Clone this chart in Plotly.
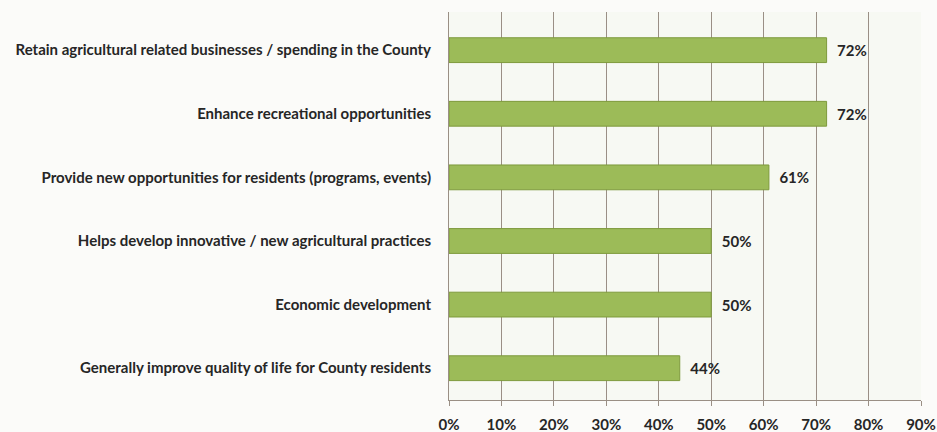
import plotly.graph_objects as go

categories = [
    "Retain agricultural related businesses / spending in the County",
    "Enhance recreational opportunities",
    "Provide new opportunities for residents (programs, events)",
    "Helps develop innovative / new agricultural practices",
    "Economic development",
    "Generally improve quality of life for County residents",
]
values = [72, 72, 61, 50, 50, 44]
value_labels = ["72%", "72%", "61%", "50%", "50%", "44%"]
x_ticks = [0, 10, 20, 30, 40, 50, 60, 70, 80, 90]
x_tick_labels = [f"{v}%" for v in x_ticks]

FONT = dict(family="Lato", size=15, color="#262626", weight="bold")

fig = go.Figure(
    go.Bar(
        x=values,
        y=categories,
        orientation="h",
        width=0.39,
        marker=dict(color="#9CBB58", line=dict(color="#7E9A3C", width=1)),
        text=["\u2002" + s for s in value_labels],
        texttemplate="%{text}",
        textposition="outside",
        textfont=FONT,
        cliponaxis=False,
    )
)

fig.update_layout(
    width=937,
    height=432,
    margin=dict(l=449, r=16, t=12, b=32, autoexpand=False),
    paper_bgcolor="#fbfbf9",
    plot_bgcolor="#f7f9f3",
    showlegend=False,
    font=FONT,
    xaxis=dict(
        range=[0, 90],
        tickvals=x_ticks,
        ticktext=x_tick_labels,
        showgrid=True,
        gridcolor="#9a8f85",
        gridwidth=1,
        zeroline=False,
        showline=True,
        linecolor="#9a8f85",
        ticks="outside",
        ticklen=5,
        tickcolor="#9a8f85",
        ticklabelstandoff=6,
        tickfont=FONT,
        automargin=False,
        fixedrange=True,
    ),
    yaxis=dict(
        categoryorder="array",
        categoryarray=categories[::-1],
        range=[-0.5, 5.6],
        showline=True,
        linecolor="#9a8f85",
        showgrid=False,
        ticks="",
        ticklabelstandoff=14,
        tickfont=FONT,
        automargin=False,
        fixedrange=True,
    ),
)

fig.write_html(
    "out.html",
    config={"displayModeBar": False},
    post_script="document.body.style.margin='0';document.body.style.overflow='hidden';",
)
